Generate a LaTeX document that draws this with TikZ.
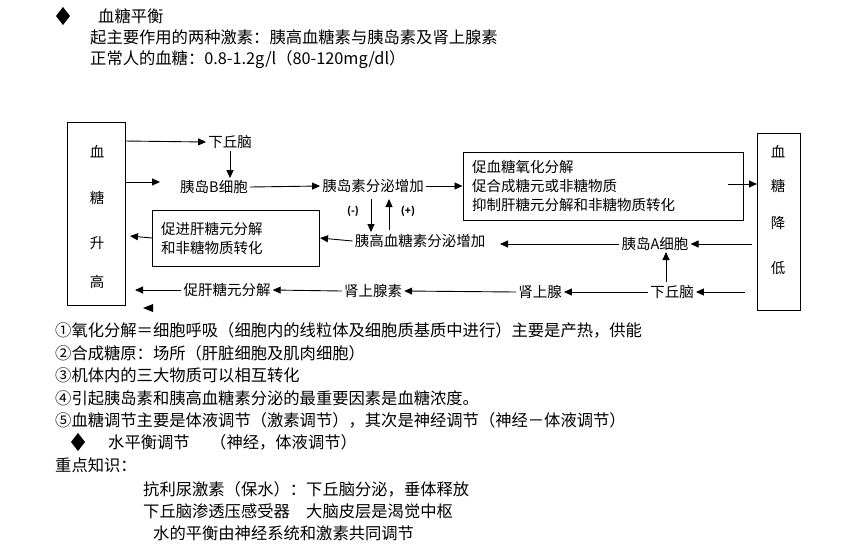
\documentclass[tikz,border=0pt]{standalone}
\usepackage{fontspec}
\setmainfont{Noto Sans CJK SC}
\usetikzlibrary{arrows.meta}
\begin{document}
\begin{tikzpicture}[x=1pt,y=-1pt,
 every node/.style={inner sep=0pt},
 txt/.style={font=\fontsize{16.3}{18}\selectfont,anchor=west},
 dt/.style={font=\fontsize{14.5}{19}\selectfont,inner sep=2pt},
 box/.style={draw,line width=1pt},
 ar/.style={-{Triangle[length=8pt,width=7pt]},line width=0.9pt}]
\useasboundingbox (0,0) rectangle (858,547);
% header
\fill (63,7) -- (70,16) -- (63,25) -- (56,16) -- cycle;
\node[txt] (h1) at (98,16) {血糖平衡};
\node[txt] (h2) at (90,37) {起主要作用的两种激素：胰高血糖素与胰岛素及肾上腺素};
\node[txt] (h3) at (90,60) {正常人的血糖：0.8-1.2g/l（80-120mg/dl）};
% side boxes
\draw[box] (67,122) rectangle (125,305);
\node[dt] at (97,152) {血};\node[dt] at (97,198) {糖};\node[dt] at (97,243) {升};\node[dt] at (97,282) {高};
\draw[box] (757,133) rectangle (800,310);
\node[dt] at (778,152) {血};\node[dt] at (778,186) {糖};\node[dt] at (778,223) {降};\node[dt] at (778,268) {低};
% nodes
\node[dt] (xq1) at (230,142) {下丘脑};
\node[dt] (yb) at (214,187) {胰岛B细胞};
\node[dt] (ys) at (373,186) {胰岛素分泌增加};
\node[box,dt,minimum width=280pt,minimum height=68pt,align=left,text width=262pt] (tr) at (603,186) {促血糖氧化分解\\促合成糖元或非糖物质\\抑制肝糖元分解和非糖物质转化};
\node[box,dt,minimum width=167pt,minimum height=56pt,align=left,text width=150pt] (bl) at (236,238) {促进肝糖元分解\\和非糖物质转化};
\node[dt] (yg) at (420,241) {胰高血糖素分泌增加};
\node[dt] (ya) at (655,244) {胰岛A细胞};
\node[dt] (xq2) at (672,292) {下丘脑};
\node[dt] (sg) at (540,292) {肾上腺};
\node[dt] (sgs) at (373,291) {肾上腺素};
\node[dt] (cg) at (227,290) {促肝糖元分解};
\node[font=\fontsize{10}{10}\selectfont\bfseries] (m) at (353,211) {(-)};
\node[font=\fontsize{10}{10}\selectfont\bfseries] (p) at (408,211) {(+)};
% arrows
\draw[ar] (125,141) -- (xq1.west);
\draw[ar] (xq1.south) -- (yb.north -| xq1);
\draw[ar] (125,182) -- (160,182);
\draw[ar] (yb.east) -- (ys.west);
\draw[ar] (ys.east) -- (tr.west);
\draw[ar] (728,184) -- (757,184);
\draw[ar] (371,199) -- (371,232);
\draw[ar] (389,230) -- (389,199);
\draw[ar] (yg.west) -- (bl.east);
\draw[ar] (bl.west) -- (130,236);
\draw[ar] (ya.west) -- (500,244);
\draw[ar] (752,244) -- (ya.east);
\draw[ar] (666,282) -- (666,252);
\draw[ar] (745,292) -- (xq2.east);
\draw[ar] (xq2.west) -- (sg.east);
\draw[ar] (sg.west) -- (sgs.east);
\draw[ar] (sgs.west) -- (cg.east);
\draw[ar] (cg.west) -- (135,290);
\fill (143,308) -- (153,304) -- (153,312) -- cycle;
% bottom text
\node[txt] (b1) at (55,330) {①氧化分解＝细胞呼吸（细胞内的线粒体及细胞质基质中进行）主要是产热，供能};
\node[txt] (b2) at (55,353) {②合成糖原：场所（肝脏细胞及肌肉细胞）};
\node[txt] (b3) at (55,375) {③机体内的三大物质可以相互转化};
\node[txt] (b4) at (55,398) {④引起胰岛素和胰高血糖素分泌的最重要因素是血糖浓度。};
\node[txt] (b5) at (55,420) {⑤血糖调节主要是体液调节（激素调节），其次是神经调节（神经－体液调节）};
\fill (78,433) -- (85,442) -- (78,451) -- (71,442) -- cycle;
\node[txt] (b6) at (108,442) {水平衡调节};
\node[txt] (b7) at (210,442) {（神经，体液调节）};
\node[txt] (b8) at (55,465) {重点知识：};
\node[txt] (b9) at (143,489) {抗利尿激素（保水）：下丘脑分泌，垂体释放};
\node[txt] (b10) at (143,511) {下丘脑渗透压感受器\quad 大脑皮层是渴觉中枢};
\node[txt] (b11) at (153,533) {水的平衡由神经系统和激素共同调节};
\end{tikzpicture}
\end{document}
